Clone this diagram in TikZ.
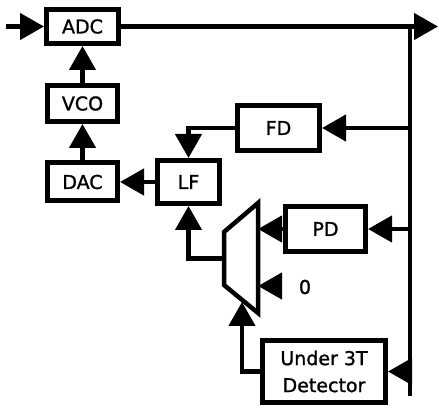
\documentclass[tikz,border=0pt]{standalone}
\usepackage{fontspec}
\setmainfont{DejaVu Sans}
\newfontfamily\lblfont{DejaVu Sans}[FakeBold=1.2]
\usetikzlibrary{arrows.meta}
\begin{document}
\begin{tikzpicture}[x=1pt,y=-1pt,line width=4.5pt,line join=miter,
  blk/.style={draw,line width=5pt,fill=white,inner sep=0pt,
    font=\lblfont\fontsize{19}{27}\selectfont,align=center},
  arr/.style={-{Triangle[length=24pt,width=26pt]}}]
\useasboundingbox (0,0) rectangle (439,411);
% blocks
\node[blk,minimum width=72pt,minimum height=34pt] (adc) at (82.5,26.5) {ADC};
\node[blk,minimum width=70pt,minimum height=36pt] (vco) at (82.5,103.5) {VCO};
\node[blk,minimum width=70pt,minimum height=38pt] (dac) at (82.5,182) {DAC};
\node[blk,minimum width=62pt,minimum height=43pt] (lf) at (188.5,182) {LF};
\node[blk,minimum width=82pt,minimum height=45pt] (fd) at (278.5,128) {FD};
\node[blk,minimum width=80pt,minimum height=45pt] (pd) at (325.5,229) {PD};
\node[blk,minimum width=123pt,minimum height=62pt] (det) at (324,371.5) {Under 3T\\Detector};
% multiplexer
\coordinate (mtl) at (224,232);
\coordinate (mtr) at (258,203);
\coordinate (mbr) at (258,313);
\coordinate (mbl) at (224,285);
\draw (mtl) -- (mtr) -- (mbr) -- (mbl) -- cycle;
\coordinate (mo) at (224,258.5);
\coordinate (mr) at (258,250);
\coordinate (ms) at (242,302);
% coordinates
\coordinate (in) at (6,26.5);
\coordinate (out) at (438,26.5);
\coordinate (bt) at (410,26.5);
\coordinate (bb) at (410,396);
\coordinate (z0) at (282,286);
% connectors
\draw[arr] (in) -- (adc.west);
\draw[arr] (adc.east) -- (out);
\draw (bt) -- (bb);
\draw[arr] (bt |- fd.east) -- (fd.east);
\draw[arr] (bt |- pd.east) -- (pd.east);
\draw[arr] (bt |- det.east) -- (det.east);
\draw[arr] (fd.west) -| (lf.north);
\draw[arr] (lf.west) -- (dac.east);
\draw[arr] (dac.north) -- (vco.south);
\draw[arr] (vco.north) -- (adc.south);
\draw[arr] (mo) -| (lf.south);
\draw[arr] (pd.west) -- (pd.west -| mr);
\draw[arr] (z0) -- (z0 -| mr);
\draw[arr] (det.west) -| (ms);
\node[font=\lblfont\fontsize{19}{27}\selectfont] (zero) at (305,287) {0};
\end{tikzpicture}
\end{document}
